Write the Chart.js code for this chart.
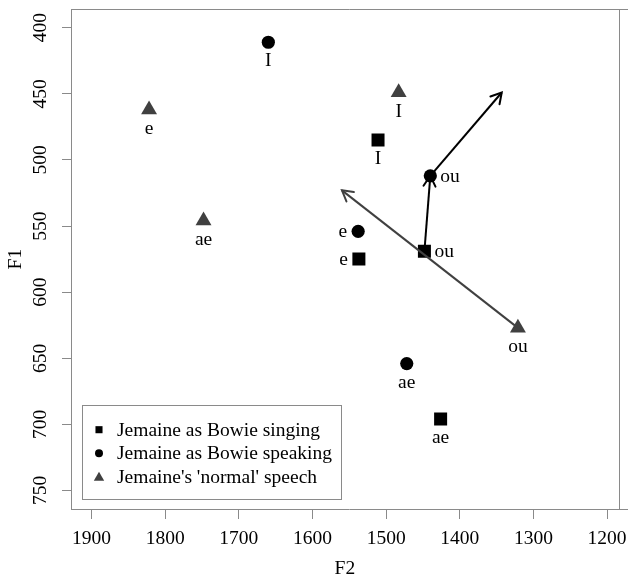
<!DOCTYPE html>
<html><head><meta charset="utf-8">
<script src="https://cdn.jsdelivr.net/npm/chart.js@4/dist/chart.umd.min.js"></script>
<style>html,body{margin:0;padding:0;background:#fff;}#wrap{width:628px;height:577px;}</style>
</head><body><div id="wrap"><canvas id="c" width="628" height="577"></canvas></div>
<script>
// ---- data ----
const vowels = ['I', 'e', 'ae', 'ou'];
const singingF2 = [1511, 1537, 1426, 1448];
const singingF1 = [485, 575, 696, 569];
const speakingF2 = [1660, 1538, 1472, 1440];
const speakingF1 = [411, 554, 654, 512];
const normalF2 = [1483, 1822, 1748, 1321];
const normalF1 = [449, 462, 546, 627];
const seriesNames = ['Jemaine as Bowie singing', 'Jemaine as Bowie speaking', "Jemaine's 'normal' speech"];
const xTicks = [1900, 1800, 1700, 1600, 1500, 1400, 1300, 1200];
const yTicks = [400, 450, 500, 550, 600, 650, 700, 750];
const arrowStartF2 = [1321, 1448, 1440];
const arrowStartF1 = [627, 569, 512];
const arrowEndF2 = [1560, 1440, 1343];
const arrowEndF1 = [523, 512, 449];

// ---- styling ----
const FONT = "'Liberation Serif','Times New Roman',serif";
const FS = 19.5;
const TRI = '#404040';
const FRAME = '#8a8a8a';
const arrowColors = [TRI, '#000', '#000'];
const labelSides = [
  ['below', 'left', 'below', 'right'],
  ['below', 'left', 'below', 'right'],
  ['below', 'below', 'below', 'below']
];
const pts = (xs, ys) => xs.map((x, i) => ({ x, y: ys[i] }));

const pointSets = [
  { data: pts(singingF2, singingF1), pointStyle: 'rect', pointRadius: 9.2, color: '#000' },
  { data: pts(speakingF2, speakingF1), pointStyle: 'circle', pointRadius: 6.6, color: '#000' },
  { data: pts(normalF2, normalF1), pointStyle: 'triangle', pointRadius: 9.2, color: TRI }
];

const datasets = [];
arrowStartF2.forEach((_, i) => {
  datasets.push({
    label: 'arrow' + i, data: [{ x: arrowStartF2[i], y: arrowStartF1[i] }, { x: arrowEndF2[i], y: arrowEndF1[i] }],
    showLine: true, borderColor: arrowColors[i], borderWidth: 2, pointRadius: 0, pointHoverRadius: 0, order: 0
  });
});
pointSets.forEach((s, i) => {
  datasets.push({
    label: seriesNames[i], data: s.data, pointStyle: s.pointStyle, pointRadius: s.pointRadius,
    pointHoverRadius: s.pointRadius, backgroundColor: s.color, borderColor: s.color, borderWidth: 0,
    showLine: false, order: 1
  });
});

const overlay = {
  id: 'overlay',
  beforeDraw(chart) {
    const ctx = chart.ctx, a = chart.chartArea;
    ctx.save();
    ctx.strokeStyle = FRAME; ctx.lineWidth = 1;
    ctx.beginPath();
    ctx.moveTo(Math.round(a.left) + 0.5, Math.round(a.top) + 0.5);
    ctx.lineTo(chart.width, Math.round(a.top) + 0.5);
    ctx.moveTo(Math.round(a.left) + 0.5, Math.round(a.top));
    ctx.lineTo(Math.round(a.left) + 0.5, Math.round(a.bottom) + 1);
    ctx.moveTo(Math.round(a.left), Math.round(a.bottom) + 0.5);
    ctx.lineTo(chart.width, Math.round(a.bottom) + 0.5);
    ctx.moveTo(Math.round(a.right) + 0.5, Math.round(a.top));
    ctx.lineTo(Math.round(a.right) + 0.5, Math.round(a.bottom));
    ctx.stroke();
    ctx.restore();
  },
  afterDatasetsDraw(chart) {
    const ctx = chart.ctx, xs = chart.scales.x, ys = chart.scales.y;
    ctx.save();
    // arrowheads
    arrowStartF2.forEach((_, i) => {
      const x0 = xs.getPixelForValue(arrowStartF2[i]), y0 = ys.getPixelForValue(arrowStartF1[i]);
      const x1 = xs.getPixelForValue(arrowEndF2[i]), y1 = ys.getPixelForValue(arrowEndF1[i]);
      const ang = Math.atan2(y1 - y0, x1 - x0), L = 12, sp = Math.PI / 6;
      ctx.strokeStyle = arrowColors[i]; ctx.lineWidth = 2; ctx.lineCap = 'round';
      ctx.beginPath();
      ctx.moveTo(x1 - L * Math.cos(ang - sp), y1 - L * Math.sin(ang - sp));
      ctx.lineTo(x1, y1);
      ctx.lineTo(x1 - L * Math.cos(ang + sp), y1 - L * Math.sin(ang + sp));
      ctx.stroke();
    });
    // point labels
    ctx.fillStyle = '#000';
    ctx.font = FS + 'px ' + FONT;
    ctx.textBaseline = 'alphabetic';
    pointSets.forEach((s, si) => {
      s.data.forEach((p, i) => {
        const px = xs.getPixelForValue(p.x), py = ys.getPixelForValue(p.y);
        const side = labelSides[si][i];
        if (side === 'below') { ctx.textAlign = 'center'; ctx.fillText(vowels[i], px, py + 24); }
        else if (side === 'left') { ctx.textAlign = 'right'; ctx.fillText(vowels[i], px - 11, py + 6); }
        else { ctx.textAlign = 'left'; ctx.fillText(vowels[i], px + 10, py + 6); }
      });
    });
    // legend
    const lx = 82.5, ly = 405.5, lw = 259, lh = 94;
    ctx.strokeStyle = FRAME; ctx.lineWidth = 1;
    ctx.strokeRect(lx, ly, lw, lh);
    const rowBase = [435.7, 459.2, 482.7];
    const symR = [5, 4, 6];
    pointSets.forEach((s, i) => {
      ctx.fillStyle = s.color; ctx.strokeStyle = s.color;
      Chart.helpers.drawPoint(ctx, { pointStyle: s.pointStyle, radius: symR[i], borderWidth: 0 }, 99, rowBase[i] - 6 + (i === 2 ? 1 : 0));
      ctx.fillStyle = '#000';
      ctx.textAlign = 'left';
      ctx.fillText(seriesNames[i], 117, rowBase[i]);
    });
    ctx.restore();
  }
};

new Chart(document.getElementById('c'), {
  type: 'scatter',
  data: { datasets },
  plugins: [overlay],
  options: {
    responsive: false, animation: false, events: [],
    layout: { padding: { top: 9, right: 8, left: 0, bottom: 0 } },
    plugins: { legend: { display: false }, tooltip: { enabled: false } },
    scales: {
      x: {
        type: 'linear', reverse: true, min: 1184, max: 1928,
        afterBuildTicks: s => { s.ticks = xTicks.map(v => ({ value: v })); },
        afterFit: s => { s.height = 68; s.paddingLeft = 0; s.paddingRight = 0; },
        border: { display: false },
        grid: { display: true, drawOnChartArea: false, drawTicks: true, tickLength: 10, color: FRAME },
        ticks: { color: '#000', font: { family: FONT, size: FS }, padding: 8, maxRotation: 0, autoSkip: false, callback: v => String(v) },
        title: { display: true, text: 'F2', color: '#000', font: { family: FONT, size: FS }, padding: { top: 0, bottom: -4 } }
      },
      y: {
        type: 'linear', reverse: true, min: 386, max: 764,
        afterBuildTicks: s => { s.ticks = yTicks.map(v => ({ value: v })); },
        afterFit: s => { s.width = 71; s.paddingTop = 0; s.paddingBottom = 0; },
        border: { display: false },
        grid: { display: true, drawOnChartArea: false, drawTicks: true, tickLength: 9, color: FRAME },
        ticks: { color: '#000', font: { family: FONT, size: FS }, padding: 7, minRotation: 90, maxRotation: 90, crossAlign: 'center', autoSkip: false, callback: v => String(v) },
        title: { display: true, text: 'F1', color: '#000', font: { family: FONT, size: FS }, padding: { top: 4, bottom: 0 } }
      }
    }
  }
});
</script></body></html>
